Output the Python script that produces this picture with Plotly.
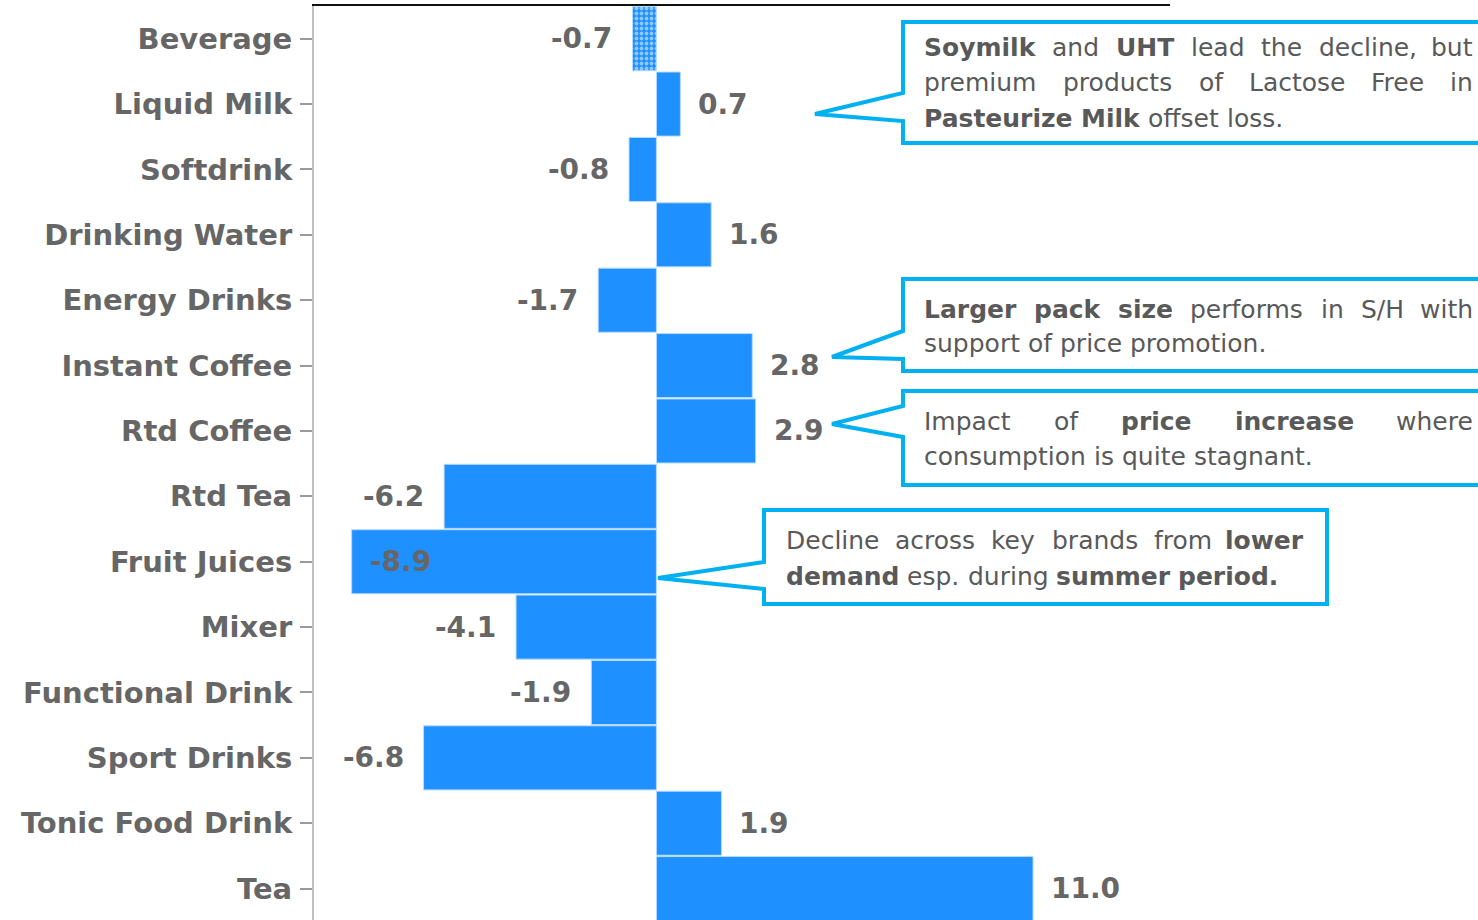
import plotly.graph_objects as go

# ---- data -------------------------------------------------------------
categories = ["Beverage", "Liquid Milk", "Softdrink", "Drinking Water",
              "Energy Drinks", "Instant Coffee", "Rtd Coffee", "Rtd Tea",
              "Fruit Juices", "Mixer", "Functional Drink", "Sport Drinks",
              "Tonic Food Drink", "Tea"]
changes = [-0.7, 0.7, -0.8, 1.6, -1.7, 2.8, 2.9, -6.2, -8.9, -4.1, -1.9,
           -6.8, 1.9, 11.0]
value_labels = [f"{v:.1f}" for v in changes]

# callout texts: list of lines, each line a list of (word, bold)
def words(s):
    out = []
    for tok in s.split(" "):
        if tok.startswith("*") and tok.endswith("*"):
            out.append((tok.strip("*"), True))
        else:
            out.append((tok, False))
    return out

callout_milk = [words("*Soymilk* and *UHT* lead the decline, but"),
                words("premium products of Lactose Free in"),
                words("*Pasteurize* *Milk* offset loss.")]
callout_coffee = [words("*Larger* *pack* *size* performs in S/H with"),
                  words("support of price promotion.")]
callout_rtd = [words("Impact of *price* *increase* where"),
               words("consumption is quite stagnant.")]
callout_juice = [words("Decline across key brands from *lower*"),
                 words("*demand* esp. during *summer* *period.*")]

# ---- figure geometry -----------------------------------------------------
W, H = 1478, 920
ML, MR, MT, MB = 314, 308, 6, 0
PW, PH = W - ML - MR, H - MT - MB
X_RANGE = [-10, 15]
BLUE = "#1E90FF"
CYAN = "#00B0F0"
TEXT_GREY = "#595959"
LABEL_GREY = "#666666"
FONT = "DejaVu Sans"


def px(x):
    return (x - ML) / PW


def py(y):
    return (H - MB - y) / PH


# approximate DejaVu Sans advance widths (units of 2048/em)
REG = {" ": 651, ",": 651, ".": 651, "/": 690, "D": 1577, "F": 1178,
       "H": 1540, "I": 604, "L": 1141, "M": 1767, "P": 1235, "S": 1300,
       "T": 1251, "U": 1499, "a": 1255, "b": 1300, "c": 1126, "d": 1300,
       "e": 1260, "f": 721, "g": 1300, "h": 1298, "i": 569, "k": 1186,
       "l": 569, "m": 1995, "n": 1298, "o": 1253, "p": 1300, "q": 1300,
       "r": 842, "s": 1067, "t": 803, "u": 1298, "w": 1675, "y": 1212,
       "z": 1075, "-": 739, "0": 1303, "1": 1303, "2": 1303, "3": 1303,
       "4": 1303, "5": 1303, "6": 1303, "7": 1303, "8": 1303, "9": 1303}
BOLD = {" ": 713, ".": 780, ",": 780, "H": 1714, "L": 1305, "M": 2039,
        "P": 1501, "S": 1474, "T": 1397, "U": 1663, "a": 1382, "c": 1214,
        "d": 1466, "e": 1389, "g": 1466, "i": 702, "k": 1360, "l": 702,
        "m": 2134, "n": 1458, "o": 1407, "p": 1466, "r": 1010, "s": 1219,
        "t": 979, "u": 1458, "w": 1892, "y": 1335, "z": 1192, "-": 850,
        "0": 1425, "1": 1425, "2": 1425, "3": 1425, "4": 1425, "5": 1425,
        "6": 1425, "7": 1425, "8": 1425, "9": 1425}


def text_width(s, bold, size):
    table = BOLD if bold else REG
    return sum(table.get(ch, 1250) for ch in s) * size / 2048


# ---- bars ----------------------------------------------------------------
patterns = ["." if c == "Beverage" else "" for c in categories]

fig = go.Figure(go.Bar(
    x=changes, y=categories, orientation="h",
    marker=dict(color=BLUE,
                line=dict(color="#B7DAFF", width=1),
                pattern=dict(shape=patterns, fgcolor="white",
                             size=5, solidity=0.45)),
    hoverinfo="x+y", showlegend=False,
))

annotations = []

# value labels at the bar ends; a label that would not fit left of a
# negative bar goes just inside the bar instead
LABEL_SIZE = 28
LABEL_FONT = dict(family=FONT, size=LABEL_SIZE, color=LABEL_GREY,
                  weight="bold")
scale = PW / (X_RANGE[1] - X_RANGE[0])
for cat, v, lab in zip(categories, changes, value_labels):
    base = dict(x=v, y=cat, xref="x", yref="y", text=lab, showarrow=False,
                font=LABEL_FONT)
    if v >= 0:
        base.update(xanchor="left", xshift=16)
    else:
        lw = text_width(lab, True, LABEL_SIZE)
        left_px = (v - X_RANGE[0]) * scale - 18 - lw
        if left_px < 0:
            base.update(xanchor="left", xshift=16)
        else:
            base.update(xanchor="right", xshift=-18)
    annotations.append(base)

# ---- callouts ------------------------------------------------------------
shapes = []
TEXT_SIZE = 25


def callout(box, tip, base, lines, text_left, text_right, line_ys):
    left, top, right, bottom = box
    b_hi, b_lo = base
    path = (f"M {px(left)},{py(top)} L {px(right)},{py(top)} "
            f"L {px(right)},{py(bottom)} L {px(left)},{py(bottom)} "
            f"L {px(left)},{py(b_lo)} L {px(tip[0])},{py(tip[1])} "
            f"L {px(left)},{py(b_hi)} Z")
    shapes.append(dict(type="path", path=path, xref="paper", yref="paper",
                       line=dict(color=CYAN, width=4), fillcolor="white",
                       layer="above"))
    space = text_width(" ", False, TEXT_SIZE)
    for i, (ln, yy) in enumerate(zip(lines, line_ys)):
        widths = [text_width(w, b, TEXT_SIZE) for w, b in ln]
        last = i == len(lines) - 1
        if last or len(ln) == 1:
            gap = space
        else:
            gap = (text_right - text_left - sum(widths)) / (len(ln) - 1)
        x = text_left
        for j, ((w, b), wd) in enumerate(zip(ln, widths)):
            txt = f"<b>{w}</b>" if b else w
            if not last and j == len(ln) - 1 and len(ln) > 1:
                ann = dict(x=px(text_right), xanchor="right")
            else:
                ann = dict(x=px(x), xanchor="left")
            ann.update(y=py(yy), yanchor="middle", xref="paper", yref="paper",
                       text=txt, showarrow=False, borderpad=0,
                       font=dict(family=FONT, size=TEXT_SIZE, color=TEXT_GREY))
            annotations.append(ann)
            x += wd + gap


callout((903, 22, 1500, 143), (815, 114), (93, 121), callout_milk,
        923, 1474, [48, 83, 118])
callout((903, 279, 1500, 371), (832, 357), (331, 359), callout_coffee,
        923, 1474, [309, 344])
callout((903, 391, 1500, 485), (832, 424), (406, 437), callout_rtd,
        923, 1474, [421, 456])
callout((764, 510, 1327, 604), (658, 578), (562, 589), callout_juice,
        785, 1305, [540, 576])

fig.update_layout(
    width=W, height=H,
    margin=dict(l=ML, r=MR, t=MT, b=MB, pad=0),
    plot_bgcolor="white", paper_bgcolor="white",
    bargap=0.02,
    xaxis=dict(range=X_RANGE, side="top", showline=True, linecolor="#111111",
               linewidth=2, showgrid=False, zeroline=False,
               showticklabels=False, ticks=""),
    yaxis=dict(type="category", categoryorder="array",
               categoryarray=categories, range=[13.48, -0.5],
               showline=True, linecolor="#BFBFBF", linewidth=2,
               ticks="outside", ticklen=12, tickwidth=2, tickcolor="#9A9A9A",
               ticklabelstandoff=2,
               showgrid=False, zeroline=False,
               tickfont=dict(family=FONT, size=29, color=LABEL_GREY,
                             weight="bold")),
    annotations=annotations,
    shapes=shapes,
)

fig.write_html("out.html")
